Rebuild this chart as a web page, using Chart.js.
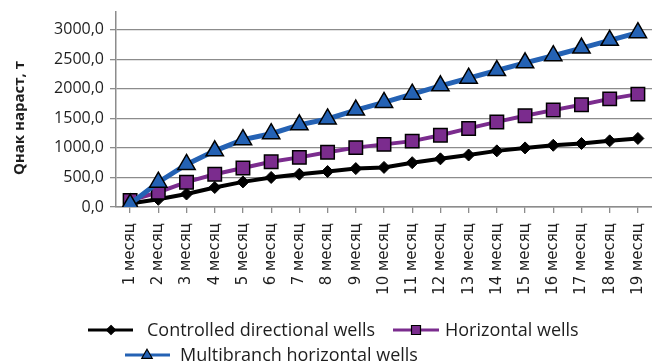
<!DOCTYPE html>
<html>
<head>
<meta charset="utf-8">
<script src="https://cdn.jsdelivr.net/npm/chart.js@4/dist/chart.umd.min.js"></script>
<style>
  html, body { margin: 0; padding: 0; background: #ffffff; }
  #wrap { width: 652px; height: 363px; }
</style>
</head>
<body>
<div id="wrap"><canvas id="c" width="652" height="363"></canvas></div>
<script>
// Cumulative oil production by month, tonnes
const months = ['1 месяц', '2 месяц', '3 месяц', '4 месяц', '5 месяц', '6 месяц', '7 месяц',
  '8 месяц', '9 месяц', '10 месяц', '11 месяц', '12 месяц', '13 месяц', '14 месяц',
  '15 месяц', '16 месяц', '17 месяц', '18 месяц', '19 месяц'];
const directional = [60, 130, 220, 330, 425, 500, 555, 600, 650, 670, 750, 815, 880, 950, 1000, 1045, 1075, 1120, 1160];
const horizontal = [110, 250, 420, 555, 660, 765, 840, 925, 1005, 1060, 1115, 1215, 1330, 1440, 1545, 1640, 1730, 1830, 1910];
const multibranch = [50, 420, 720, 950, 1140, 1240, 1390, 1490, 1640, 1770, 1910, 2050, 2180, 2310, 2440, 2560, 2690, 2820, 2950];
const yTickValues = [0, 500, 1000, 1500, 2000, 2500, 3000];
const seriesNames = ['Controlled directional wells', 'Horizontal wells', 'Multibranch horizontal wells'];
const yTitle = 'Qнак нараст, т';

const C_BLACK = '#000000';
const C_PURPLE = '#7B2C8E';
const C_BLUE = '#2462B4';
const C_GRID = '#8c8c8c';
const C_TEXT = '#1e1e1e';

// Legend entries: symbol line span, marker centre and text start
const legendLayout = [
  { x1: 88, x2: 133, y: 330, mx: 111, tx: 147 },
  { x1: 393, x2: 439, y: 330, mx: 416, tx: 445 },
  { x1: 125, x2: 170, y: 355, mx: 147, tx: 180 }
];

function drawMarker(ctx, style, x, y, r, fill) {
  ctx.save();
  ctx.fillStyle = fill;
  ctx.strokeStyle = '#000';
  ctx.lineWidth = 1.2;
  ctx.beginPath();
  if (style === 'rectRot') {
    ctx.moveTo(x, y - r); ctx.lineTo(x + r, y); ctx.lineTo(x, y + r); ctx.lineTo(x - r, y);
  } else if (style === 'rect') {
    ctx.rect(x - r, y - r, 2 * r, 2 * r);
  } else {
    ctx.moveTo(x, y - r * 1.05); ctx.lineTo(x + r * 0.95, y + r * 0.6); ctx.lineTo(x - r * 0.95, y + r * 0.6);
  }
  ctx.closePath();
  ctx.fill();
  ctx.stroke();
  ctx.restore();
}

const overlay = {
  id: 'overlay',
  afterDraw(chart) {
    const ctx = chart.ctx;
    // rotated y-axis title
    ctx.save();
    ctx.translate(20, 118);
    ctx.rotate(-Math.PI / 2);
    ctx.font = 'bold 15px "Open Sans"';
    ctx.fillStyle = C_TEXT;
    ctx.textAlign = 'center';
    ctx.textBaseline = 'middle';
    ctx.fillText(yTitle, 0, 0);
    ctx.restore();

    // legend
    chart.data.datasets.forEach((ds, i) => {
      const L = legendLayout[i];
      ctx.save();
      ctx.strokeStyle = ds.borderColor;
      ctx.lineWidth = 3;
      ctx.beginPath();
      ctx.moveTo(L.x1, L.y);
      ctx.lineTo(L.x2, L.y);
      ctx.stroke();
      ctx.restore();
      const r = ds.pointStyle === 'rectRot' ? 4.5 : (ds.pointStyle === 'rect' ? 4.5 : 5.5);
      drawMarker(ctx, ds.pointStyle, L.mx, L.y, r, ds.pointBackgroundColor);
      ctx.save();
      ctx.font = '18px "Open Sans"';
      ctx.fillStyle = C_TEXT;
      ctx.textAlign = 'left';
      ctx.textBaseline = 'middle';
      ctx.fillText(ds.label, L.tx, L.y + 1);
      ctx.restore();
    });
  }
};

new Chart(document.getElementById('c'), {
  type: 'line',
  data: {
    labels: months,
    datasets: [
      {
        label: seriesNames[0], data: directional, order: 3,
        borderColor: C_BLACK, borderWidth: 4, tension: 0,
        pointStyle: 'rectRot', pointRadius: 6, pointHoverRadius: 6,
        pointBackgroundColor: C_BLACK, pointBorderColor: C_BLACK, pointBorderWidth: 1
      },
      {
        label: seriesNames[1], data: horizontal, order: 2,
        borderColor: C_PURPLE, borderWidth: 4, tension: 0,
        pointStyle: 'rect', pointRadius: 9.5, pointHoverRadius: 9.5,
        pointBackgroundColor: C_PURPLE, pointBorderColor: '#000', pointBorderWidth: 1.5
      },
      {
        label: seriesNames[2], data: multibranch, order: 1,
        borderColor: C_BLUE, borderWidth: 5, tension: 0,
        pointStyle: 'triangle', pointRadius: 10, pointHoverRadius: 10,
        pointBackgroundColor: C_BLUE, pointBorderColor: '#000', pointBorderWidth: 1.5
      }
    ]
  },
  options: {
    responsive: false,
    animation: false,
    layout: { autoPadding: false, padding: { left: 0, right: 0, top: 12, bottom: 56 } },
    plugins: { legend: { display: false }, tooltip: { enabled: false } },
    scales: {
      x: {
        type: 'category',
        offset: true,
        afterFit(scale) { scale.height = 100; scale.paddingLeft = 0; scale.paddingRight = 0; },
        grid: { drawOnChartArea: false, drawTicks: true, tickLength: 6, color: C_GRID, lineWidth: 1.3 },
        border: { display: true, color: C_GRID, width: 1.5 },
        ticks: {
          autoSkip: false, minRotation: 90, maxRotation: 90, padding: 10,
          color: C_TEXT, font: { family: '"DejaVu Sans"', size: 15 }
        }
      },
      y: {
        min: 0, max: 3300,
        afterFit(scale) { scale.width = 116; scale.paddingTop = 0; scale.paddingBottom = 0; },
        afterBuildTicks(scale) {
          scale.ticks = yTickValues.map(v => ({ value: v }));
        },
        grid: { color: C_GRID, lineWidth: 1.3, tickLength: 6 },
        border: { display: true, color: C_GRID, width: 1.5 },
        ticks: {
          padding: 6, color: C_TEXT, font: { family: '"Open Sans"', size: 16 },
          callback: v => v.toFixed(1).replace('.', ',')
        }
      }
    }
  },
  plugins: [overlay]
});
</script>
</body>
</html>
